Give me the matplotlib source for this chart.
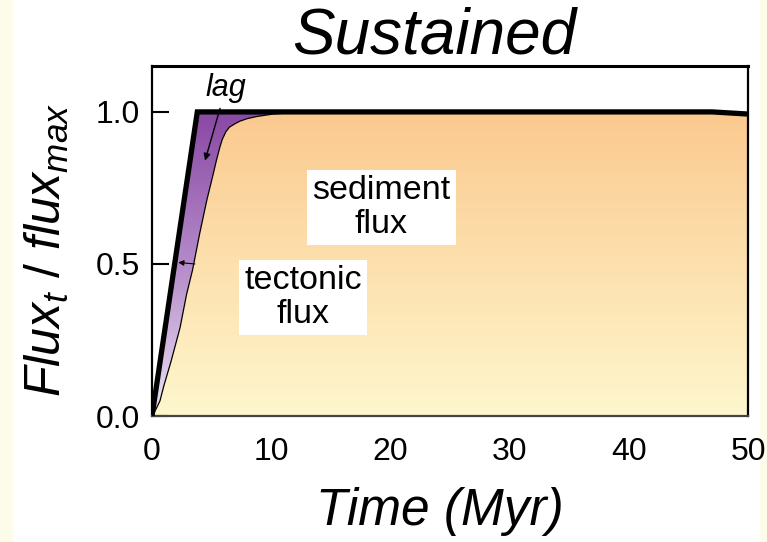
import numpy as np
import matplotlib
matplotlib.use("Agg")
import matplotlib.pyplot as plt
from matplotlib.colors import LinearSegmentedColormap
from matplotlib.patches import Rectangle

# ---- data ----
time_tect = [0.0, 3.8, 47.0, 50.0]
flux_tect = [0.0, 1.0, 1.0, 0.993]

time_sed = [0.0, 0.3, 0.67, 1.0, 1.6, 2.35, 2.9, 3.4, 4.0, 4.6, 5.1, 5.4, 5.7, 5.9,
            6.2, 6.5, 7.0, 7.4, 8.0, 8.8, 10.15, 11.6, 14.0, 20.0, 30.0, 40.0, 46.0, 50.0]
flux_sed = [0.0, 0.02, 0.05, 0.10, 0.18, 0.29, 0.40, 0.48, 0.60, 0.71, 0.79, 0.84, 0.885, 0.91,
            0.935, 0.95, 0.962, 0.97, 0.978, 0.985, 0.993, 0.997, 1.0, 1.0, 1.0, 1.0, 0.997, 0.993]

x_ticks = [0, 10, 20, 30, 40, 50]
y_ticks = [0.0, 0.5, 1.0]
y_ticklabels = ["0.0", "0.5", "1.0"]

plt.rcParams['font.family'] = ['Liberation Sans', 'DejaVu Sans']
plt.rcParams['mathtext.fontset'] = 'custom'
plt.rcParams['mathtext.rm'] = 'Liberation Sans'
plt.rcParams['mathtext.it'] = 'Liberation Sans:italic'

fig = plt.figure(figsize=(7.67, 5.42), dpi=100, facecolor='white')
fig.patches.append(Rectangle((0, 0), 13 / 767, 1, transform=fig.transFigure,
                             facecolor='#fdfbea', edgecolor='none', zorder=-10))
fig.patches.append(Rectangle((760 / 767, 0), 7 / 767, 1, transform=fig.transFigure,
                             facecolor='#fdfbea', edgecolor='none', zorder=-10))

ax = fig.add_axes([152 / 767, 1 - 416 / 542, (748 - 152) / 767, (416 - 66) / 542])
ax.set_facecolor('white')

grad = np.linspace(0, 1, 256).reshape(-1, 1)

# sediment gradient fill
cmap_sed = LinearSegmentedColormap.from_list('sed', ['#fef7cd', '#fbc98f'])
sed_poly = ax.fill(np.concatenate([time_sed, [time_sed[-1], 0]]),
                   np.concatenate([flux_sed, [0, 0]]),
                   facecolor='none', edgecolor='none')[0]
im1 = ax.imshow(grad, extent=[0, 50, 0, 1], origin='lower', cmap=cmap_sed,
                aspect='auto', zorder=1)
im1.set_clip_path(sed_poly)

# lag (purple) gradient fill between tectonic and sediment
cmap_lag = LinearSegmentedColormap.from_list('lag', ['#ece2f3', '#b48ac9', '#8a48a3'])
lag_poly = ax.fill(np.concatenate([time_tect, time_sed[::-1]]),
                   np.concatenate([flux_tect, flux_sed[::-1]]),
                   facecolor='none', edgecolor='none')[0]
im2 = ax.imshow(grad, extent=[0, 50, 0, 1], origin='lower', cmap=cmap_lag,
                aspect='auto', zorder=1)
im2.set_clip_path(lag_poly)

ax.plot(time_sed, flux_sed, color='black', lw=0.9, zorder=3)
ax.plot(time_tect, flux_tect, color='black', lw=3.8, solid_joinstyle='miter',
        solid_capstyle='butt', zorder=4)

ax.set_xlim(0, 50)
ax.set_ylim(0, 1.151)

ax.set_xticks(x_ticks)
ax.set_xticklabels([str(v) for v in x_ticks])
ax.set_yticks(y_ticks)
ax.set_yticklabels(y_ticklabels)
ax.tick_params(axis='x', length=0, pad=15, labelsize=23)
ax.tick_params(axis='y', direction='in', length=12, width=1.5, pad=8.5, labelsize=23)

for side, lw, col in [('left', 1.6, 'black'), ('top', 2.2, 'black'),
                      ('right', 1.6, 'black'), ('bottom', 1.6, '#444444')]:
    ax.spines[side].set_linewidth(lw)
    ax.spines[side].set_color(col)

# annotations
box = dict(facecolor='white', edgecolor='none', boxstyle='square,pad=0.15')
ax.text(19.25, 0.686, 'sediment\nflux', ha='center', va='center', fontsize=24.5,
        linespacing=1.1, bbox=box, zorder=5)
ax.text(12.67, 0.39, 'tectonic\nflux', ha='center', va='center', fontsize=24.5,
        linespacing=1.1, bbox=box, zorder=5)

ax.annotate('lag', xy=(4.45, 0.84), xytext=(6.2, 1.079), ha='center', va='center',
            fontsize=22, style='italic', zorder=6,
            arrowprops=dict(arrowstyle='-|>', color='black', lw=1.0,
                            mutation_scale=10, shrinkA=2, shrinkB=0))
ax.annotate('', xy=(2.2, 0.505), xytext=(3.6, 0.5), zorder=6,
            arrowprops=dict(arrowstyle='-|>', color='black', lw=0.8,
                            mutation_scale=8, shrinkA=0, shrinkB=0))

fig.text(434 / 767, 1 - 36 / 542, 'Sustained', ha='center', va='center',
         fontsize=46, style='italic')
fig.text(440 / 767, 1 - 511 / 542, 'Time (Myr)', ha='center', va='center',
         fontsize=37, style='italic')
fig.text(47 / 767, 1 - 250 / 542, r'$Flux_t\ /\ flux_{max}$', ha='center',
         va='center', rotation=90, fontsize=36)

fig.savefig('out.png', dpi=100, facecolor=fig.get_facecolor())
